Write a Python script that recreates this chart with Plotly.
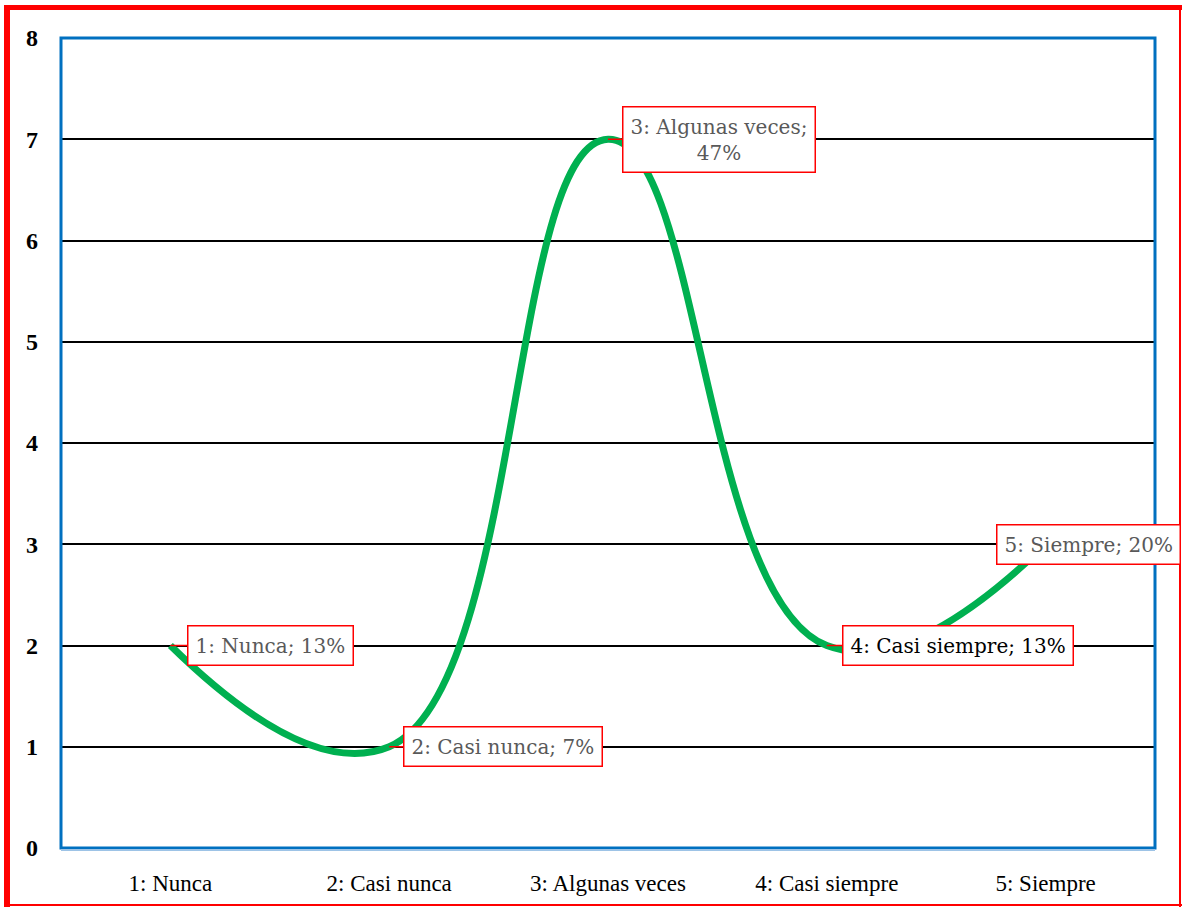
import plotly.graph_objects as go

# Frecuencia de respuestas por categoría
categorias = ["1: Nunca", "2: Casi nunca", "3: Algunas veces", "4: Casi siempre", "5: Siempre"]
frecuencias = [2, 1, 7, 2, 3]
marcas_y = [0, 1, 2, 3, 4, 5, 6, 7, 8]

total = sum(frecuencias)
porcentajes = [f"{round(v / total * 100)}%" for v in frecuencias]

W, H = 1182, 907
ML, MR, MT, MB = 61, 27, 38, 59
PW, PH = W - ML - MR, H - MT - MB


def px_x(px):
    return (px - ML) / PW


def px_y(py):
    return (H - MB - py) / PH


fig = go.Figure()
fig.add_trace(go.Scatter(
    x=categorias,
    y=frecuencias,
    mode="lines",
    line=dict(color="#00B050", width=7, shape="spline", smoothing=1.3),
    hoverinfo="skip",
    showlegend=False,
))

# Etiquetas tipo globo: categoría; porcentaje
desplaz = [100, 114, 111, 131, 43]
colores = ["#595959", "#595959", "#595959", "#000000", "#595959"]
for i, (cat, val, pct) in enumerate(zip(categorias, frecuencias, porcentajes)):
    texto = f"{cat}; {pct}"
    if cat.startswith("3:"):
        texto = f"{cat};<br>{pct}"
    anot = dict(
        x=cat, y=val, xref="x", yref="y",
        text=texto,
        font=dict(family="DejaVu Serif", size=20, color=colores[i]),
        bgcolor="white",
        bordercolor="#FF0000",
        borderwidth=1.5,
        borderpad=7,
        align="center",
    )
    if i == 4:
        anot.update(showarrow=False, xshift=desplaz[i])
    else:
        anot.update(showarrow=True, arrowhead=0, arrowcolor="#FF0000",
                    arrowwidth=1.5, ax=desplaz[i], ay=0, standoff=0)
    fig.add_annotation(**anot)

shapes = [
    # marco del área de trazado
    dict(type="rect", xref="paper", yref="paper", x0=0, x1=1, y0=0, y1=1,
         line=dict(color="#0070C0", width=3), layer="above"),
    dict(type="line", xref="paper", yref="paper", x0=0, x1=1,
         y0=px_y(850), y1=px_y(850),
         line=dict(color="#9DC3E6", width=2), layer="above"),
    # marco exterior rojo
    dict(type="line", xref="paper", yref="paper", x0=px_x(7), x1=px_x(7),
         y0=px_y(5), y1=px_y(907), line=dict(color="#FF0000", width=6)),
    dict(type="line", xref="paper", yref="paper", x0=px_x(4), x1=px_x(1182),
         y0=px_y(7.5), y1=px_y(7.5), line=dict(color="#FF0000", width=5)),
    dict(type="line", xref="paper", yref="paper", x0=px_x(1180), x1=px_x(1180),
         y0=px_y(5), y1=px_y(907), line=dict(color="#FF0000", width=2)),
    dict(type="line", xref="paper", yref="paper", x0=px_x(4), x1=px_x(1182),
         y0=px_y(905), y1=px_y(905), line=dict(color="#FF0000", width=2)),
]

fig.update_layout(
    width=W, height=H,
    margin=dict(l=ML, r=MR, t=MT, b=MB, pad=0),
    paper_bgcolor="white",
    plot_bgcolor="white",
    shapes=shapes,
    xaxis=dict(
        type="category",
        range=[-0.5, 4.5],
        showgrid=False,
        zeroline=False,
        showline=False,
        ticks="",
        tickfont=dict(family="Liberation Serif", size=23, color="black"),
        ticklabelstandoff=19,
    ),
    yaxis=dict(
        range=[0, 8],
        tickvals=marcas_y,
        showgrid=True,
        gridcolor="black",
        gridwidth=1.5,
        zeroline=False,
        showline=False,
        ticks="",
        tickfont=dict(family="Liberation Serif", size=24, color="black", weight="bold"),
        ticklabelstandoff=22,
    ),
)

fig.write_html("out.html")
